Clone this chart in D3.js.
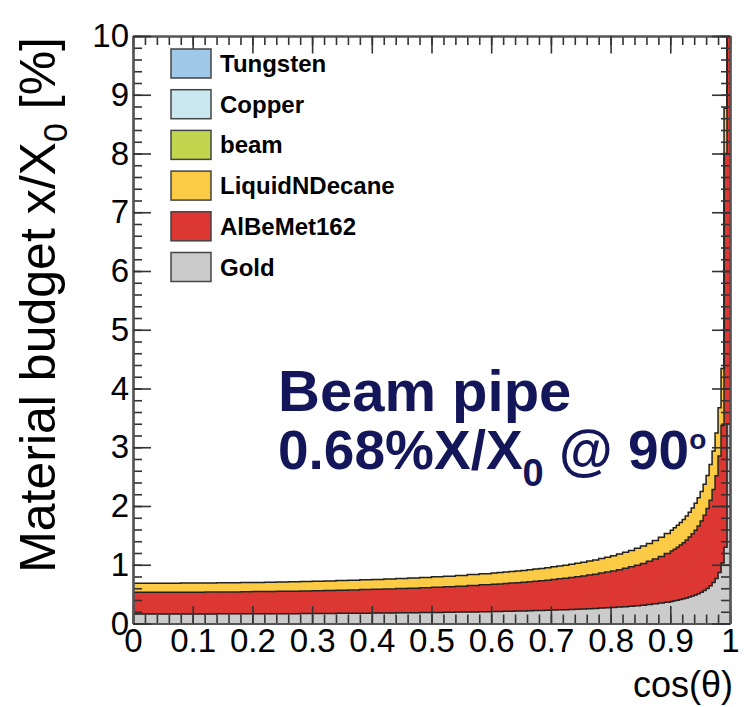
<!DOCTYPE html>
<meta charset="utf-8">
<script src="https://cdn.jsdelivr.net/npm/d3@7"></script>
<style type="text/css">
    body { margin: 0; background: #fff; }
    text { font-family: "Liberation Sans", Arial, Helvetica, sans-serif; }
    .frame path, .frame line { stroke: #333; stroke-width: 1.6; }
    .frame .domain { stroke: #555; stroke-width: 2.2; }
</style>
<body>
<script>
    // bin edges in cos(theta), finer towards the beam axis
    var binEdges = [0, 0.02, 0.04, 0.06, 0.08, 0.1, 0.12, 0.14, 0.16, 0.18, 0.2, 0.22, 0.24, 0.26, 0.28, 0.3,
        0.32, 0.34, 0.36, 0.38, 0.4, 0.42, 0.44, 0.46, 0.48, 0.5, 0.52, 0.54, 0.56, 0.58, 0.6,
        0.61, 0.62, 0.63, 0.64, 0.65, 0.66, 0.67, 0.68, 0.69, 0.7, 0.71, 0.72, 0.73, 0.74, 0.75,
        0.76, 0.77, 0.78, 0.79, 0.8, 0.81, 0.82, 0.83, 0.84, 0.85, 0.86, 0.87, 0.88, 0.89, 0.9,
        0.905, 0.91, 0.915, 0.92, 0.925, 0.93, 0.935, 0.94, 0.945, 0.95, 0.955, 0.96, 0.965, 0.97,
        0.975, 0.98, 0.985, 0.99, 0.995, 1];

    // material budget per bin [% X0]
    var gold = [0.162, 0.162, 0.162, 0.162, 0.163, 0.163, 0.163, 0.164, 0.164, 0.165,
        0.166, 0.166, 0.167, 0.168, 0.169, 0.170, 0.172, 0.173, 0.174, 0.176,
        0.178, 0.179, 0.181, 0.184, 0.186, 0.188, 0.191, 0.194, 0.197, 0.201,
        0.203, 0.205, 0.208, 0.210, 0.212, 0.214, 0.217, 0.220, 0.222, 0.225,
        0.228, 0.232, 0.235, 0.239, 0.243, 0.247, 0.252, 0.256, 0.262, 0.267,
        0.273, 0.280, 0.287, 0.294, 0.303, 0.312, 0.323, 0.335, 0.348, 0.363,
        0.376, 0.386, 0.396, 0.407, 0.420, 0.433, 0.449, 0.466, 0.485, 0.507,
        0.532, 0.562, 0.597, 0.641, 0.696, 0.768, 0.870, 1.028, 1.300, 3.400];

    var alBeMet = [0.369, 0.369, 0.369, 0.370, 0.371, 0.371, 0.372, 0.373, 0.374, 0.376,
        0.377, 0.379, 0.381, 0.383, 0.386, 0.388, 0.391, 0.394, 0.397, 0.401,
        0.405, 0.409, 0.413, 0.418, 0.423, 0.429, 0.435, 0.442, 0.449, 0.457,
        0.463, 0.468, 0.473, 0.478, 0.483, 0.488, 0.494, 0.500, 0.506, 0.513,
        0.520, 0.528, 0.536, 0.544, 0.553, 0.563, 0.573, 0.584, 0.596, 0.608,
        0.622, 0.637, 0.653, 0.671, 0.690, 0.711, 0.735, 0.762, 0.793, 0.827,
        0.857, 0.878, 0.902, 0.928, 0.956, 0.987, 1.022, 1.060, 1.104, 1.154,
        1.212, 1.279, 1.360, 1.459, 1.584, 1.749, 1.981, 2.341, 6.700, 9.800];

    var decane = [0.153, 0.153, 0.153, 0.153, 0.154, 0.154, 0.154, 0.155, 0.155, 0.156,
        0.156, 0.157, 0.158, 0.159, 0.160, 0.161, 0.162, 0.163, 0.165, 0.166,
        0.168, 0.169, 0.171, 0.173, 0.176, 0.178, 0.180, 0.183, 0.186, 0.189,
        0.192, 0.194, 0.196, 0.198, 0.200, 0.202, 0.205, 0.207, 0.210, 0.213,
        0.216, 0.219, 0.222, 0.226, 0.229, 0.233, 0.238, 0.242, 0.247, 0.252,
        0.258, 0.264, 0.271, 0.278, 0.286, 0.295, 0.305, 0.316, 0.329, 0.343,
        0.355, 0.364, 0.374, 0.385, 0.396, 0.409, 0.424, 0.440, 0.458, 0.478,
        0.502, 0.530, 0.564, 0.605, 0.657, 0.725, 0.821, 0.971, 0.770, 0.000];

    var legendNames = ["Tungsten", "Copper", "beam", "LiquidNDecane", "AlBeMet162", "Gold"];
    var legendColors = ["#9fc8e9", "#cbe8f0", "#c2d54f", "#fbcb45", "#dc3732", "#cbcbcb"];
    var stackKeys = ["Gold", "AlBeMet162", "LiquidNDecane"];

    var width = 744, height = 707;
    var margin = {top: 36, right: 14, bottom: 83.5, left: 133};

    var x = d3.scaleLinear().domain([0, 1]).range([margin.left, width - margin.right]);
    var y = d3.scaleLinear().domain([0, 10]).range([height - margin.bottom, margin.top]);

    var svg = d3.select("body")
        .append("svg")
        .attr("width", width)
        .attr("height", height);

    svg.append("clipPath")
        .attr("id", "plotclip")
        .append("rect")
        .attr("x", x(0))
        .attr("y", y(10))
        .attr("width", x(1) - x(0))
        .attr("height", y(0) - y(10));

    var rows = gold.map(function(d, i) {
        return {x0: binEdges[i], x1: binEdges[i + 1],
            Gold: gold[i], AlBeMet162: alBeMet[i], LiquidNDecane: decane[i]};
    });
    var series = d3.stack().keys(stackKeys)(rows);

    function colorOf(key) {
        return legendColors[legendNames.indexOf(key)];
    }

    // step points for each layer
    function steps(s) {
        var pts = [];
        s.forEach(function(d) {
            pts.push([d.data.x0, d[0], d[1]]);
            pts.push([d.data.x1, d[0], d[1]]);
        });
        return pts;
    }

    var area = d3.area()
        .x(function(d) { return x(d[0]); })
        .y0(function(d) { return y(d[1]); })
        .y1(function(d) { return y(d[2]); });

    var line = d3.line()
        .x(function(d) { return x(d[0]); })
        .y(function(d) { return y(d[2]); });

    var hist = svg.append("g").attr("clip-path", "url(#plotclip)");

    hist.selectAll(".fill")
        .data(series)
        .enter()
        .append("path")
        .attr("class", "fill")
        .attr("d", function(s) { return area(steps(s)); })
        .style("fill", function(s) { return colorOf(s.key); })
        .style("stroke", function(s) { return colorOf(s.key); })
        .style("stroke-width", 0.5);

    hist.selectAll(".outline")
        .data(series)
        .enter()
        .append("path")
        .attr("class", "outline")
        .attr("d", function(s) { return line(steps(s)); })
        .style("fill", "none")
        .style("stroke", "#222")
        .style("stroke-width", 1.5);

    // axes, ROOT style ticks pointing inwards
    var fmt = d3.format("~g");

    svg.append("g").attr("class", "frame")
        .attr("transform", "translate(0," + y(0) + ")")
        .call(d3.axisBottom(x).ticks(50).tickSize(-9).tickSizeOuter(0).tickFormat(""));
    svg.append("g").attr("class", "frame xaxis")
        .attr("transform", "translate(0," + y(0) + ")")
        .call(d3.axisBottom(x).ticks(10).tickSize(-17.5).tickSizeOuter(0).tickPadding(5).tickFormat(fmt));

    svg.append("g").attr("class", "frame")
        .attr("transform", "translate(0," + y(10) + ")")
        .call(d3.axisTop(x).ticks(50).tickSize(-9).tickSizeOuter(0).tickFormat(""));
    svg.append("g").attr("class", "frame")
        .attr("transform", "translate(0," + y(10) + ")")
        .call(d3.axisTop(x).ticks(10).tickSize(-17.5).tickSizeOuter(0).tickFormat(""));

    svg.append("g").attr("class", "frame")
        .attr("transform", "translate(" + x(0) + ",0)")
        .call(d3.axisLeft(y).ticks(50).tickSize(-9).tickSizeOuter(0).tickFormat(""));
    svg.append("g").attr("class", "frame yaxis")
        .attr("transform", "translate(" + x(0) + ",0)")
        .call(d3.axisLeft(y).ticks(10).tickSize(-18).tickSizeOuter(0).tickPadding(4).tickFormat(fmt));

    svg.append("g").attr("class", "frame")
        .attr("transform", "translate(" + x(1) + ",0)")
        .call(d3.axisRight(y).ticks(50).tickSize(-9).tickSizeOuter(0).tickFormat(""));
    svg.append("g").attr("class", "frame")
        .attr("transform", "translate(" + x(1) + ",0)")
        .call(d3.axisRight(y).ticks(10).tickSize(-18).tickSizeOuter(0).tickFormat(""));

    svg.selectAll(".xaxis text, .yaxis text")
        .attr("font-family", null)
        .style("font-size", "33px")
        .style("fill", "#000");

    // axis titles
    svg.append("text")
        .attr("x", 733)
        .attr("y", 697)
        .attr("text-anchor", "end")
        .style("font-size", "36px")
        .text("cos(θ)");

    var ytitle = svg.append("text")
        .attr("transform", "translate(55,37) rotate(-90)")
        .attr("text-anchor", "end")
        .style("font-size", "50px");
    ytitle.append("tspan").text("Material budget x/X");
    ytitle.append("tspan").attr("dy", 12).style("font-size", "34px").text("0");
    ytitle.append("tspan").attr("dy", -12).text(" [%]");

    // legend
    var legend = svg.selectAll(".legend")
        .data(legendNames)
        .enter()
        .append("g")
        .attr("class", "legend")
        .attr("transform", function(d, i) { return "translate(171," + (49 + i * 40.7) + ")"; });

    legend.append("rect")
        .attr("width", 40)
        .attr("height", 29)
        .style("fill", function(d, i) { return legendColors[i]; })
        .style("stroke", "#444")
        .style("stroke-width", 1.5);

    legend.append("text")
        .attr("x", 49)
        .attr("y", 23)
        .style("font-size", "24px")
        .style("font-weight", "bold")
        .text(function(d) { return d; });

    // annotation
    var note = svg.append("g")
        .style("fill", "#14165a")
        .style("font-weight", "bold");

    note.append("text")
        .attr("x", 278)
        .attr("y", 411)
        .style("font-size", "58px")
        .text("Beam pipe");

    var line2 = note.append("text")
        .attr("x", 278)
        .attr("y", 469)
        .style("font-size", "55px");
    line2.append("tspan").text("0.68%X/X");
    line2.append("tspan").attr("dy", 17).style("font-size", "38px").text("0");
    line2.append("tspan").attr("dy", -17).text(" @ 90");
    line2.append("tspan").attr("dy", -20).style("font-size", "28px").text("o");
</script>
</body>
